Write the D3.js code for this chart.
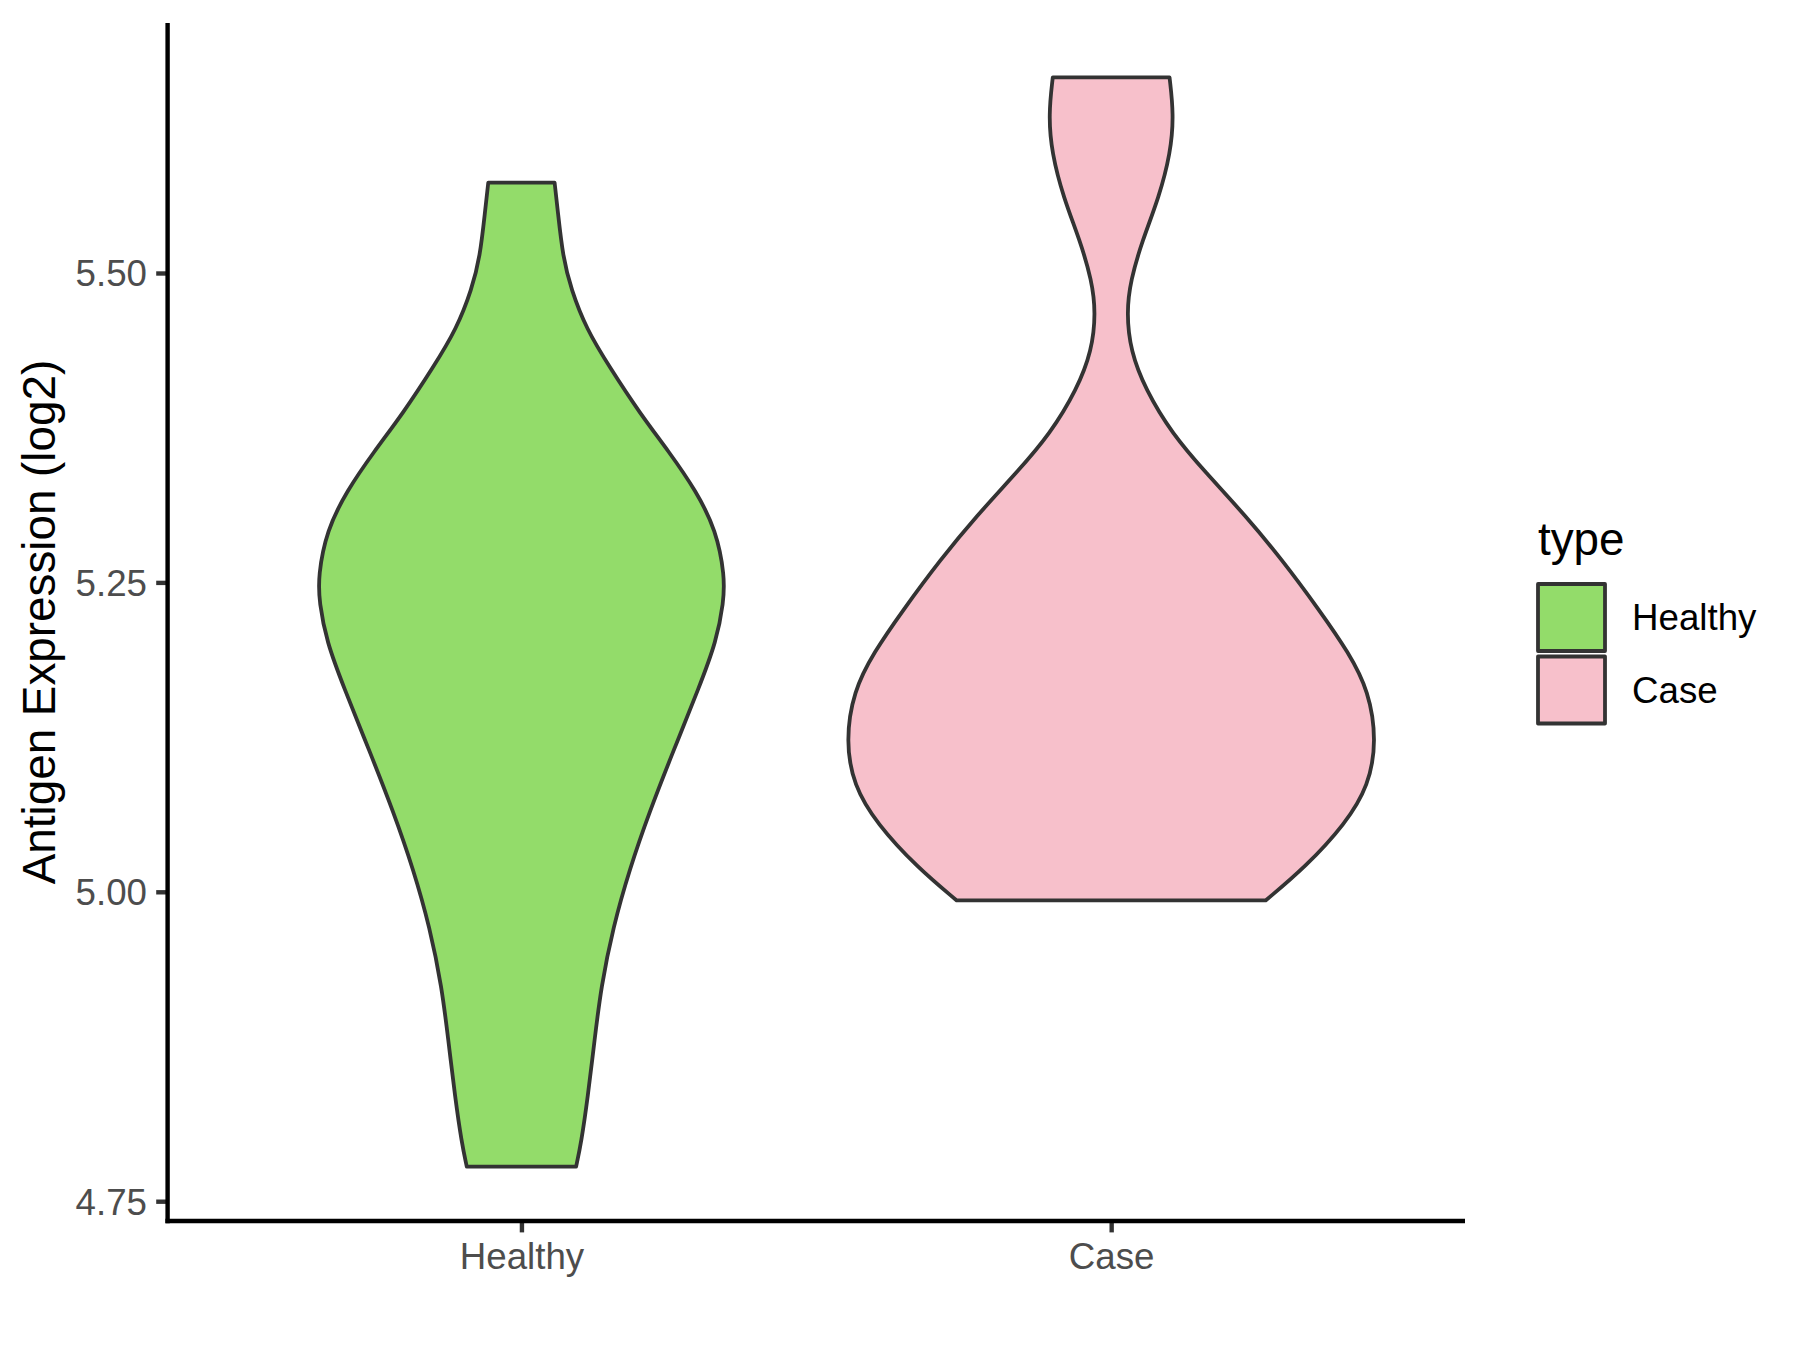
<!DOCTYPE html>
<html>
<head>
<meta charset="utf-8">
<script src="https://cdn.jsdelivr.net/npm/d3@7"></script>
<style>
  html, body { margin: 0; padding: 0; background: #ffffff; }
  svg { display: block; font-family: "Liberation Sans", Arial, sans-serif; }
</style>
</head>
<body>
<svg id="chart" width="1800" height="1350"></svg>
<script>
// ---------------- data ----------------
const categories = ["Healthy", "Case"];
const fillColors = ["#93DC6A", "#F7C0CB"];

// density profiles (value, relative density)
const healthyValues  = [4.778, 4.797, 4.834, 4.881, 4.923, 4.971, 5.018, 5.065, 5.113, 5.166, 5.202, 5.234, 5.255, 5.292, 5.324, 5.355, 5.387, 5.424, 5.455, 5.487, 5.513, 5.550, 5.573];
const healthyDensity = [0.206, 0.225, 0.250, 0.276, 0.300, 0.345, 0.407, 0.483, 0.571, 0.671, 0.734, 0.762, 0.766, 0.734, 0.658, 0.558, 0.445, 0.332, 0.244, 0.187, 0.156, 0.137, 0.125];

const caseValues  = [4.993, 5.020, 5.055, 5.086, 5.122, 5.162, 5.193, 5.228, 5.268, 5.304, 5.339, 5.370, 5.406, 5.437, 5.468, 5.494, 5.526, 5.561, 5.597, 5.628, 5.658];
const caseDensity = [0.582, 0.732, 0.883, 0.971, 1.000, 0.971, 0.896, 0.783, 0.645, 0.506, 0.355, 0.230, 0.129, 0.073, 0.058, 0.073, 0.117, 0.180, 0.224, 0.236, 0.220];

const yTicks = [4.75, 5.00, 5.25, 5.50];
const yTitle = "Antigen Expression (log2)";
const legendTitle = "type";

// ---------------- layout ----------------
const panel = { left: 167.6, right: 1465, top: 23, bottom: 1221 };
const axisTextSize = 36.7, titleSize = 45.8;
const lineW = 4.4, violinStroke = 3.8;

const svg = d3.select("#chart");

const series = [
  { name: categories[0], values: healthyValues, density: healthyDensity, fill: fillColors[0] },
  { name: categories[1], values: caseValues, density: caseDensity, fill: fillColors[1] }
];

const allVals = healthyValues.concat(caseValues);
const [vmin, vmax] = d3.extent(allVals);
const pad = (vmax - vmin) * 0.05;

const y = d3.scaleLinear().domain([vmin - pad, vmax + pad]).range([panel.bottom, panel.top]);
const x = d3.scalePoint().domain(categories).range([panel.left, panel.right]).padding(0.6);
const maxDens = d3.max(series, s => d3.max(s.density));
const w = d3.scaleLinear().domain([0, maxDens]).range([0, x.step() * 0.45]);

// ---------------- violins ----------------
series.forEach(s => {
  const pts = s.values.map((v, i) => ({ v, d: s.density[i] }));
  const cx = x(s.name);
  const area = d3.area()
    .y(p => y(p.v))
    .x0(p => cx - w(p.d))
    .x1(p => cx + w(p.d))
    .curve(d3.curveBasis);
  svg.append("path")
    .attr("d", area(pts))
    .attr("fill", s.fill)
    .attr("stroke", "#333333")
    .attr("stroke-width", violinStroke)
    .attr("stroke-linejoin", "round");
});

// ---------------- axes ----------------
const yAxis = d3.axisLeft(y).tickValues(yTicks).tickFormat(d3.format(".2f"))
  .tickSize(11.4).tickSizeOuter(0).tickPadding(9.2);
const gy = svg.append("g").attr("transform", `translate(${panel.left},0)`).call(yAxis);

const xAxis = d3.axisBottom(x).tickSize(11.4).tickSizeOuter(0).tickPadding(9.2);
const gx = svg.append("g").attr("transform", `translate(0,${panel.bottom})`).call(xAxis);

[gy, gx].forEach(g => {
  g.select(".domain").remove();
  g.selectAll(".tick line").attr("stroke", "#333333").attr("stroke-width", lineW);
  g.selectAll(".tick text").attr("fill", "#4D4D4D")
    .style("font-size", axisTextSize + "px")
    .style("font-family", "'Liberation Sans', Arial, sans-serif");
});
gy.selectAll(".tick text").attr("dy", "0.35em");
gx.selectAll(".tick text").attr("dy", "0.75em");

// axis lines
svg.append("line")
  .attr("x1", panel.left).attr("x2", panel.left)
  .attr("y1", panel.top).attr("y2", panel.bottom + lineW / 2)
  .attr("stroke", "#000").attr("stroke-width", lineW);
svg.append("line")
  .attr("x1", panel.left - lineW / 2).attr("x2", panel.right)
  .attr("y1", panel.bottom).attr("y2", panel.bottom)
  .attr("stroke", "#000").attr("stroke-width", lineW);

// y title
svg.append("text")
  .attr("transform", `translate(55,${(panel.top + panel.bottom) / 2}) rotate(-90)`)
  .attr("text-anchor", "middle")
  .style("font-size", titleSize + "px")
  .attr("fill", "#000")
  .text(yTitle);

// ---------------- legend ----------------
const leg = svg.append("g").attr("transform", "translate(1538,0)");
leg.append("text").attr("x", 0).attr("y", 555)
  .style("font-size", titleSize + "px").attr("fill", "#000").text(legendTitle);
const keySize = 67, keyTop = 584;
series.forEach((s, i) => {
  const ky = keyTop + i * (keySize + 5.5);
  leg.append("rect")
    .attr("x", 0).attr("y", ky).attr("width", keySize).attr("height", keySize)
    .attr("fill", s.fill).attr("stroke", "#333333").attr("stroke-width", violinStroke)
    .attr("stroke-linejoin", "round");
  leg.append("text")
    .attr("x", keySize + 27).attr("y", ky + keySize / 2).attr("dy", "0.35em")
    .style("font-size", axisTextSize + "px").attr("fill", "#000").text(s.name);
});
</script>
</body>
</html>
